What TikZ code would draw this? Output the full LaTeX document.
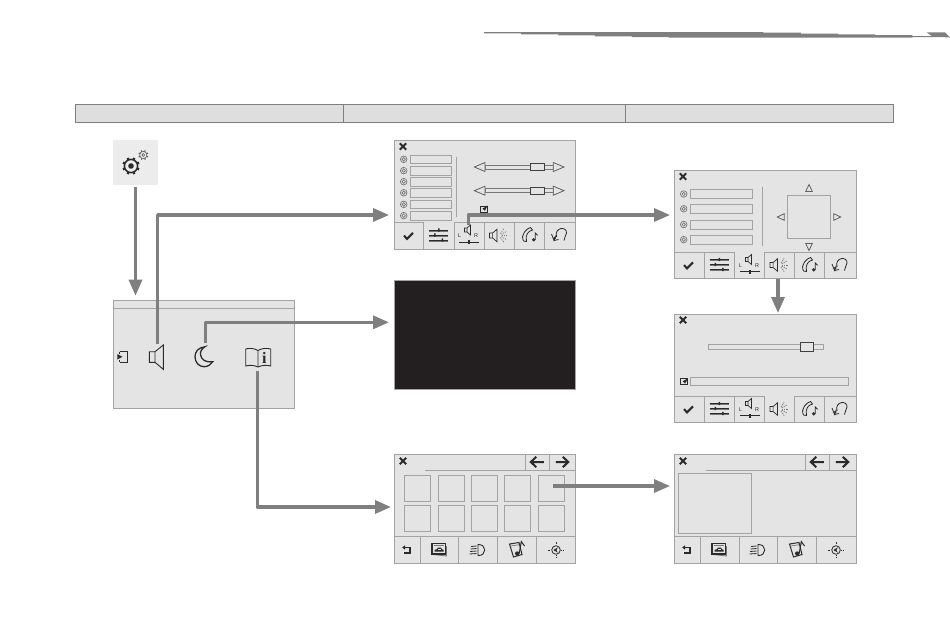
\documentclass[tikz,border=0pt]{standalone}
\usepackage{fontspec}
\setmainfont{Liberation Serif}
\setsansfont{Liberation Sans}
\usetikzlibrary{arrows.meta}
\definecolor{flowgray}{HTML}{7F7F7F}
\definecolor{panelfill}{HTML}{E4E4E4}
\definecolor{edgegray}{HTML}{A3A3A3}
\definecolor{barfill}{HTML}{DEDEDE}
\definecolor{inkdark}{HTML}{2B2B2B}
\definecolor{midgray}{HTML}{777777}
\definecolor{nightfill}{HTML}{231F20}
\tikzset{
  screenbox/.style={draw=edgegray,fill=panelfill,line width=.9pt,anchor=north west,inner sep=0pt,outer sep=0pt,minimum width=181.5pt,minimum height=109pt},
  rule/.style={draw=edgegray,line width=.9pt},
  field/.style={draw=edgegray,fill=panelfill,line width=.8pt},
  thumb/.style={draw=inkdark!90,fill=panelfill,line width=1pt},
  ink/.style={draw=inkdark,line width=.9pt},
  softink/.style={draw=midgray,line width=.8pt},
  flow/.style={draw=flowgray,line width=3.3pt,line join=round,-{Triangle[width=13pt,length=16pt]}},
  lbl/.style={inner sep=0pt,outer sep=0pt,text=inkdark,font=\sffamily\fontsize{5.5}{6}\selectfont}
}
\newcommand{\crossmark}[1]{\begin{scope}[shift={(#1)}]\draw[inkdark,line width=2pt] (-3.2,-3.2)--(3.2,3.2) (-3.2,3.2)--(3.2,-3.2);\end{scope}}
\newcommand{\tickmark}[1]{\begin{scope}[shift={(#1)}]\draw[inkdark,line width=2.1pt] (-4.5,-.3)--(-1.5,2.8)--(4.5,-3.2);\end{scope}}
\newcommand{\targetmark}[1]{\begin{scope}[shift={(#1)}]\draw[midgray,line width=.7pt] (0,0) circle (3.3) (0,0) circle (1.7);\end{scope}}
\newcommand{\slidersicon}[1]{\begin{scope}[shift={(#1)}]
  \draw[inkdark,line width=.8pt] (-9.5,-5.5)--(9.5,-5.5) (-9.5,-.5)--(9.5,-.5) (-9.5,4.5)--(9.5,4.5);
  \draw[midgray,line width=.7pt] (-9.5,-4.3)--(9.5,-4.3) (-9.5,.7)--(9.5,.7) (-9.5,5.6)--(9.5,5.6);
  \fill[inkdark] (-.5,-7.2) rectangle (1,-4) (-4.5,-2.2) rectangle (-3,1) (3,2.8) rectangle (4.5,6);
\end{scope}}
\newcommand{\smallspeaker}[2][1]{\begin{scope}[shift={(#2)},scale=#1]
  \draw[ink,line width=.7pt,fill=panelfill] (-4,-2)--(-1.5,-2)--(2,-5)--(2,5)--(-1.5,2)--(-4,2)--cycle (-1.5,-2)--(-1.5,2);
\end{scope}}
\newcommand{\lricon}[2]{\begin{scope}[shift={(#1)}]
  \smallspeaker{-.5,-5.5}
  \node[lbl] (#2L) at (-9.5,.5) {L};
  \node[lbl] (#2R) at (7,.5) {R};
  \draw[inkdark,line width=1pt] (-10,6.5)--(10,6.5);
  \fill[inkdark] (-1,4.5) rectangle (1,8.5);
\end{scope}}
\newcommand{\soundicon}[1]{\begin{scope}[shift={(#1)}]
  \smallspeaker[1.25]{-4.5,0}
  \foreach \a in {-55,-28,0,28,55}{\draw[midgray,line width=.7pt,dash pattern=on 1.2pt off 1pt] (\a:2.5)--(\a:9);}
\end{scope}}
\newcommand{\phoneicon}[1]{\begin{scope}[shift={(#1)}]
  \draw[inkdark,line width=.8pt] (-5.5,6) .. controls (-9,0) and (-2,-7) .. (1.5,-7.5) -- (3.5,-5) .. controls (-1,-4) and (-4,0) .. (-2.5,6.5) -- cycle;
  \fill[inkdark] (4.7,4.8) circle (1.8);
  \draw[inkdark,line width=.9pt] (6.2,4.8)--(6.2,-2)--(8.5,0.3);
\end{scope}}
\newcommand{\voiceicon}[1]{\begin{scope}[shift={(#1)}]
  \draw[inkdark,line width=.8pt] (-2.5,2) .. controls (-5,-8) and (8,-9) .. (7.5,-2) .. controls (7.3,1) and (5,2) .. (5,5.5);
  \draw[inkdark,line width=.8pt] (-7.5,-1)--(-5,5.5)--(-3,.5) (-.5,4.5)--(-5,5.5);
  \fill[inkdark] (-4.2,3) circle (1.4);
\end{scope}}
\newcommand{\backicon}[1]{\begin{scope}[shift={(#1)}]
  \draw[inkdark,line width=1.1pt] (-3.5,-2.5)--(3,-2.5)--(3,3)--(-3,3);
  \fill[inkdark] (-4.8,-2.5)--(-2,-4.7)--(-2,-.3)--cycle;
\end{scope}}
\newcommand{\caricon}[1]{\begin{scope}[shift={(#1)}]
  \draw[softink] (-6,5.5)--(7.5,7)--(7.5,-3);
  \draw[inkdark,line width=1.1pt,fill=panelfill] (-7,-5.5) rectangle (6.5,5);
  \draw[midgray,line width=.7pt] (-5.5,-3.5)--(5,-3.5);
  \fill[inkdark] (-4.5,2.6)--(-4.5,.8)--(-2.2,.3)--(-1,-1.4)--(2,-1.4)--(3,.3)--(4.5,.8)--(4.5,2.6)--cycle;
  \fill[panelfill] (-1.5,.4) rectangle (1.8,1.2);
\end{scope}}
\newcommand{\beamicon}[1]{\begin{scope}[shift={(#1)}]
  \draw[inkdark,line width=.9pt] (0,-5.5) .. controls (9,-6) and (9,6) .. (0,5.5) -- cycle;
  \foreach \yy/\xx in {-4.5/-7,-2/-7.5,.5/-8,3/-8.5}{\draw[inkdark,line width=.8pt] (-1.5,\yy+.5)--(\xx,\yy+1);}
\end{scope}}
\newcommand{\handseticon}[1]{\begin{scope}[shift={(#1)}]
  \draw[inkdark,line width=1pt,fill=panelfill] (-7.5,-5.5)--(2,-7)--(5,5)--(-3.5,7.5)--cycle;
  \draw[midgray,line width=.7pt] (-6,-3.5)--(2,-4.8);
  \fill[inkdark] (.2,4) circle (2.2);
  \draw[inkdark,line width=1pt] (2.2,4)--(4.3,-8)--(7.5,-3.5);
\end{scope}}
\newcommand{\compassicon}[1]{\begin{scope}[shift={(#1)}]
  \draw[inkdark,line width=.8pt] (0,0) circle (4.3);
  \fill[inkdark] (-2.7,0)--(1.8,-2.6)--(.4,0)--(1.8,2.6)--cycle;
  \draw[inkdark,line width=.8pt,dash pattern=on 1pt off .9pt] (-8.5,0)--(-5,0) (5,0)--(8.5,0) (0,-8.5)--(0,-5) (0,5)--(0,8.5);
\end{scope}}
\newcommand{\checkbox}[1]{\begin{scope}[shift={(#1)}]
  \draw[inkdark,line width=1pt,fill=panelfill] (-3.5,-3) rectangle (3.5,3);
  \fill[inkdark] (-1.3,-.4)--(3.9,-3.4)--(1.2,1.8)--cycle;
\end{scope}}
\newcommand{\lefttri}[2]{\draw[softink,draw=inkdark!75,fill=panelfill] (#1,#2) -- ++(10.7,-4.5) -- ++(0,9) -- cycle;}
\newcommand{\righttri}[2]{\draw[softink,draw=inkdark!75,fill=panelfill] (#1,#2) -- ++(-10.7,-4.5) -- ++(0,9) -- cycle;}
\newcommand{\headarrows}[3]{
  \draw[rule] (#1,470.3)--(#3,470.3) (#2,454.3)--(#2,470.3) (#2+24,454.3)--(#2+24,470.3);
  \draw[inkdark,line width=2pt] (#2+18.5,462)--(#2+5.5,462) (#2+11,456.8)--(#2+5.5,462)--(#2+11,467.2);
  \draw[inkdark,line width=2pt] (#2+30.5,462)--(#2+43,462) (#2+37.5,456.8)--(#2+43,462)--(#2+37.5,467.2);
}
\begin{document}
\begin{tikzpicture}[x=1pt,y=-1pt]
\useasboundingbox (0,0) rectangle (950,633);
% tapering stripe at the top
\begin{scope}[shift={(470,20)},x=.3333pt,y=-.3333pt]
  \fill[flowgray] (42,36)--(880,36)--(880,38)--(993,38)--(993,41)--(1104,41)--(1104,43)--(1215,43)--(1215,45.5)--(1327,45.5)--(1327,48)--(1385,48)--(1370,37)--(1425,37)--(1440,52)--(1385,51)--(1327,51)--(1327,53)--(597,53)--(597,51)--(486,51)--(486,49)--(375,49)--(375,46)--(265,46)--(265,43)--(153,43)--(153,40)--(42,40)--cycle;
\end{scope}
% header bar
\node[draw=flowgray,fill=barfill,line width=1pt,anchor=north west,inner sep=0pt,outer sep=0pt,minimum width=818pt,minimum height=18pt] (header) at (75.3,104.3) {};
\draw[draw=flowgray,line width=1pt] (343.3,104.3)--(343.3,122.3) (625.3,104.3)--(625.3,122.3);
% settings tile
\node[fill=panelfill!70!white,anchor=north west,inner sep=0pt,outer sep=0pt,minimum width=45pt,minimum height=45pt] (tile) at (113,140) {};
\begin{scope}[shift={(131,166)}]
  \draw[inkdark,line width=1.5pt] (0,0) circle (6.6);
  \fill[inkdark] (0,0) circle (2.8);
  \foreach \a in {22.5,67.5,...,337.5}{\draw[inkdark,line width=2.4pt] (\a:6.5)--(\a:8.7);}
\end{scope}
\begin{scope}[shift={(143.3,155)}]
  \draw[midgray!70!inkdark,line width=.6pt] (0,0) circle (3.6) (0,0) circle (1.4);
  \foreach \a in {22.5,67.5,...,337.5}{\draw[midgray!70!inkdark,line width=1.2pt] (\a:3.6)--(\a:5);}
\end{scope}
% menu panel
\node[screenbox,minimum height=108pt] (panel) at (113.3,300.7) {};
\draw[rule] (113.3,308.3)--(294.8,308.3);
\draw[ink,line width=.8pt] (119.5,351.5)--(127.5,351.5)--(127.5,362)--(119.5,362);
\draw[ink,line width=.8pt] (119.5,351.5)--(119.5,353.5) (119.5,362)--(119.5,360);
\fill[inkdark] (117.3,354)--(122.5,356.8)--(117.3,359.5)--cycle;
\draw[ink] (149.3,351.7)--(155,351.7)--(163.3,345)--(163.3,369.3)--(155,362.3)--(149.3,362.3)--cycle (155,351.7)--(155,362.3);
\draw[inkdark,line width=1.3pt] (205,346.7) .. controls (198,347.5) and (195,352) .. (195,356.7) .. controls (195,362.5) and (199,366.7) .. (204,366.7) .. controls (208,366.7) and (211,364.5) .. (212.7,361.7) .. controls (206,363) and (201,359.5) .. (200.5,354.5) .. controls (200.2,351) and (202,348.5) .. (205,346.7) -- cycle;
\draw[ink] (258,350.5) .. controls (254,348) and (249,348) .. (245.7,349) -- (245.7,366) .. controls (249,365) and (254,365) .. (258,367) .. controls (262,365) and (267,365) .. (270.7,366) -- (270.7,349) .. controls (267,348) and (262,348) .. (258,350.5) -- (258,367);
\node[inner sep=0pt,outer sep=0pt,text=inkdark,font=\rmfamily\bfseries\fontsize{16}{16}\selectfont] (infoi) at (264.4,357.5) {i};
% screen 1: settings list
\node[screenbox] (s1) at (394.2,140.2) {};
\crossmark{403,146.5}
\foreach \ya/\yb in {155.3/163.3,166.3/175,177.3/186,188.3/197.3,200/208.7,211.3/220}{
  \draw[field] (410.7,\ya) rectangle (451.7,\yb);
  \targetmark{403.7,{(\ya+\yb)/2}}
}
\draw[rule] (456.3,157.3)--(456.3,217.3);
\foreach \yc in {167,190.7}{
  \draw[field,draw=midgray] (485,\yc-2) rectangle (553.3,\yc+2);
  \lefttri{474.3}{\yc}
  \righttri{564}{\yc}
  \draw[thumb] (530,\yc-3.5) rectangle (544,\yc+3.5);
}
\checkbox{483.7,209}
\draw[rule] (394.2,222.3)--(423.3,222.3) (454.3,222.3)--(575.7,222.3);
\foreach \xd in {423.3,454.3,484.3,514.3,544.3}{\draw[rule] (\xd,222.3)--(\xd,249.2);}
\tickmark{408.5,236}
\slidersicon{438.5,235.5}
\lricon{469,235.5}{sa}
\soundicon{499,235.5}
\phoneicon{529,235}
\voiceicon{559,235}
% screen 2: balance
\node[screenbox,minimum height=108pt] (s2) at (674.5,170.2) {};
\crossmark{683,176.5}
\foreach \ya/\yb in {189.3/198.7,204.3/213.3,220/229,235.3/244}{
  \draw[field] (690.7,\ya) rectangle (752.7,\yb);
  \targetmark{683.7,{(\ya+\yb)/2}}
}
\draw[rule] (762.3,186.7)--(762.3,246);
\draw[field] (787.3,195.7) rectangle (830.7,238.7);
\draw[softink,draw=inkdark!75] (809,184.5)--(812.3,191.5)--(805.7,191.5)--cycle;
\draw[softink,draw=inkdark!75] (809,250.5)--(812.3,243.5)--(805.7,243.5)--cycle;
\draw[softink,draw=inkdark!75] (777.3,217)--(784.3,213.7)--(784.3,220.3)--cycle;
\draw[softink,draw=inkdark!75] (840.7,217)--(833.7,213.7)--(833.7,220.3)--cycle;
\draw[rule] (674.5,252.3)--(734.7,252.3) (764.3,252.3)--(856,252.3);
\foreach \xd in {704.3,734.7,764.3,794.3,824.3}{\draw[rule] (\xd,252.3)--(\xd,278.2);}
\tickmark{688.5,265.5}
\slidersicon{719,265}
\lricon{750,265}{sb}
\soundicon{779.5,265}
\phoneicon{809,265}
\voiceicon{839.5,265}
% screen 3: volume
\node[screenbox,minimum height=108pt] (s3) at (674.5,314.3) {};
\crossmark{683,320}
\draw[field] (708.3,344.3) rectangle (823.7,349.7);
\draw[thumb] (800.3,342.3) rectangle (813.7,351);
\checkbox{684,381.7}
\draw[field] (690.3,377.3) rectangle (848,385.3);
\draw[rule] (674.5,396.3)--(764.3,396.3) (794.3,396.3)--(856,396.3);
\foreach \xd in {704.3,734.7,764.3,794.3,824.3}{\draw[rule] (\xd,396.3)--(\xd,422.3);}
\tickmark{688.5,409.5}
\slidersicon{719,409}
\lricon{750,409}{sc}
\soundicon{779.5,409}
\phoneicon{809,409}
\voiceicon{839.5,409}
% dark screen
\node[fill=nightfill,draw=edgegray,line width=.6pt,anchor=north west,inner sep=0pt,outer sep=0pt,minimum width=181.5pt,minimum height=109pt] (night) at (394.2,280.2) {};
% screen 4: manual grid
\node[screenbox] (s4) at (394.2,454.3) {};
\crossmark{403,461}
\headarrows{425}{525.3}{575.7}
\foreach \xa/\xb in {404.3/430.7,438.3/464.3,471.3/497.3,504.3/530.7,538.3/564.7}{
  \draw[field] (\xa,475.3) rectangle (\xb,501.7);
  \draw[field] (\xa,505.3) rectangle (\xb,531.7);
}
\draw[rule] (394.2,536.3)--(575.7,536.3);
\foreach \xd in {420.3,458.3,497.3,536.7}{\draw[rule] (\xd,536.3)--(\xd,563.3);}
\backicon{407,550}
\caricon{439,549}
\beamicon{478,550}
\handseticon{517,549.5}
\compassicon{556,550}
% screen 5: manual page
\node[screenbox] (s5) at (674.5,454.3) {};
\crossmark{683,461}
\headarrows{705.7}{805.3}{856}
\draw[field] (678.3,473.3) rectangle (751.7,533.3);
\draw[rule] (674.5,536.3)--(856,536.3);
\foreach \xd in {700.3,739.3,777.3,816.3}{\draw[rule] (\xd,536.3)--(\xd,563.3);}
\backicon{687,550}
\caricon{719,549}
\beamicon{758,550}
\handseticon{797,549.5}
\compassicon{836,550}
% connector anchors
\coordinate (speakertop) at (157.7,344);
\coordinate (moontop) at (205.3,343);
\coordinate (bookfoot) at (257.3,371);
\coordinate (lrtab) at (468.3,225);
\coordinate (gridcell) at (553.3,486);
\coordinate (soundtab) at (778,278.5);
\coordinate (s1in) at (389,215);
\coordinate (nightin) at (389,322.3);
\coordinate (s4in) at (391,507);
\coordinate (s2in) at (670,215);
\coordinate (s3in) at (778,313);
\coordinate (s5in) at (670,486);
% connectors
\draw[flow,shorten <=2pt,shorten >=5pt] (tile.south) -- (tile.south |- panel.north);
\draw[flow] (speakertop) |- (s1in);
\draw[flow] (moontop) |- (nightin);
\draw[flow] (bookfoot) |- (s4in);
\draw[flow] (lrtab) |- (s2in);
\draw[flow] (soundtab) -- (s3in);
\draw[flow] (gridcell) -- (s5in);
\end{tikzpicture}
\end{document}
